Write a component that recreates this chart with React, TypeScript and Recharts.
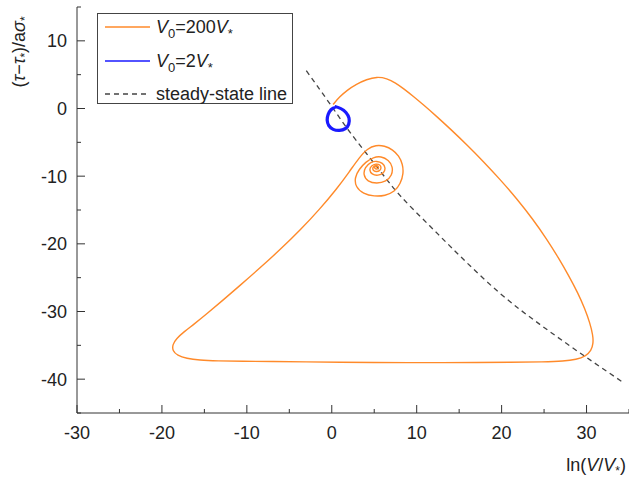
import React from "react";
import { LineChart, Line, XAxis, YAxis, Legend, Label } from "recharts";

// trajectory for V0 = 200 V*  (ln(V/V*), (tau - tau*)/a sigma*)
const fastLnV = [
  0.16, 0.9, 1.8, 2.9, 4.1, 5.3, 6.5, 7.5, 8.5, 9.6, 10.8, 12.3, 14.0, 15.9, 17.9, 19.8,
  21.8, 23.7, 25.3, 26.7, 27.9, 29.0, 29.8, 30.4, 30.75, 30.8, 30.55, 29.9, 28.8, 27.3,
  25, 21, 17, 13, 9, 5, 1, -3, -7, -10.5, -13.5, -15.6, -17.1, -18.2, -18.75, -18.75,
  -18.3, -17.4, -16.2, -14.7, -12.9, -10.8, -8.5, -6.1, -3.7, -1.4, 0.6, 2.1, 3.2, 4.2,
  5.2, 6.2, 7.2, 7.9, 8.35, 8.45, 8.1, 7.4, 6.3, 5.0, 3.7, 2.8, 2.7, 3.2, 4.0, 4.9,
  5.8, 6.7, 7.2, 7.1, 6.4, 5.3, 4.2, 3.7, 3.9, 4.6,
  5.3, 6.0, 6.35, 6.15, 5.45, 4.7, 4.4, 4.65,
  5.2, 5.7, 5.85, 5.65, 5.2, 4.85, 4.8, 5.05,
  5.35, 5.55, 5.45, 5.15, 5.0, 5.15, 5.3, 5.26,
];
const fastTau = [
  0.6, 1.7, 2.7, 3.6, 4.3, 4.7, 4.45, 3.8, 2.9, 1.8, 0.54, -1.11, -3.07, -5.35, -7.89, -10.45,
  -13.35, -16.39, -19.27, -22.07, -24.7, -27.3, -29.6, -31.7, -33.5, -34.7, -35.8, -36.6, -37.1, -37.35,
  -37.45, -37.5, -37.55, -37.55, -37.55, -37.55, -37.5, -37.45, -37.4, -37.35, -37.3, -37.2, -36.95, -36.5, -35.8, -34.9,
  -34.0, -33.0, -31.86, -30.33, -28.42, -26.15, -23.62, -20.88, -17.95, -14.85, -11.85, -9.3, -7.3, -5.9,
  -5.4, -5.5, -6.1, -7.0, -8.2, -9.6, -11.1, -12.3, -12.9, -13.0, -12.6, -11.6, -10.2, -9.0, -7.9, -7.2,
  -7.05, -7.6, -8.6, -9.9, -10.8, -11.1, -10.8, -9.8, -8.7, -7.9,
  -7.75, -8.05, -8.75, -9.55, -9.95, -9.75, -9.05, -8.45,
  -8.15, -8.3, -8.8, -9.25, -9.35, -9.15, -8.75, -8.45,
  -8.4, -8.65, -8.95, -8.95, -8.7, -8.5, -8.6, -8.63,
];

// trajectory for V0 = 2 V* (small limit cycle, two passes)
const slowLnV = [
  0.35, 1.1, 1.75, 2.15, 2.1, 1.7, 0.9, 0.1, -0.45, -0.65, -0.5, -0.15, 0.35,
  1.1, 1.7, 2.05, 2.0, 1.6, 0.9, 0.15, -0.35, -0.55, -0.4, -0.05, 0.4,
];
const slowTau = [
  0.34, 0.1, -0.5, -1.4, -2.4, -3.1, -3.38, -3.2, -2.6, -1.7, -0.8, -0.05, 0.34,
  -0.05, -0.6, -1.45, -2.35, -3.0, -3.25, -3.1, -2.55, -1.7, -0.85, -0.15, 0.15,
];

// steady-state line
const ssLnV = [-3, 0, 2.2, 5.3, 8, 11.5, 15.1, 19.8, 24.5, 29.2, 34.1];
const ssTau = [5.6, 0.3, -3.6, -8.6, -12.8, -17.3, -21.8, -27.3, -31.9, -36.1, -40.3];

const xTicks = [-30, -25, -20, -15, -10, -5, 0, 5, 10, 15, 20, 25, 30, 35];
const yTicks = [-45, -40, -35, -30, -25, -20, -15, -10, -5, 0, 5, 10, 15];

const toPoints = (xs: number[], ys: number[]) => xs.map((x, i) => ({ x, y: ys[i] }));

const fastData = toPoints(fastLnV, fastTau);
const slowData = toPoints(slowLnV, slowTau);
const ssData = toPoints(ssLnV, ssTau);

const ORANGE = "#ff8a2a";
const BLUE = "#1a1aff";
const DASH = "#444";
const FONT = "'Liberation Sans', Arial, sans-serif";

const XTick = (props: any) => {
  const { x, y, payload } = props;
  const v = payload.value;
  const major = v % 10 === 0;
  return (
    <g>
      <line x1={x} x2={x} y1={y} y2={y - (major ? 8 : 4)} stroke="#333" />
      {major && (
        <text x={x} y={y + 26} textAnchor="middle" fontSize={18} fill="#222" fontFamily={FONT}>
          {v}
        </text>
      )}
    </g>
  );
};

const YTick = (props: any) => {
  const { x, y, payload } = props;
  const v = payload.value;
  const major = v % 10 === 0 && v > -45;
  return (
    <g>
      <line x1={x} x2={x + (major ? 8 : 4)} y1={y} y2={y} stroke="#333" />
      {major && (
        <text x={x - 10} y={y + 6.5} textAnchor="end" fontSize={18} fill="#222" fontFamily={FONT}>
          {v}
        </text>
      )}
    </g>
  );
};

const YTitle = () => (
  <text
    transform="translate(25,52) rotate(-90)"
    textAnchor="middle"
    fontSize={18}
    fill="#222"
    fontFamily={FONT}
  >
    <tspan>(</tspan>
    <tspan fontStyle="italic">τ</tspan>
    <tspan>−</tspan>
    <tspan fontStyle="italic">τ</tspan>
    <tspan fontSize={12} dy={4}>*</tspan>
    <tspan dy={-4}>)/a</tspan>
    <tspan fontStyle="italic">σ</tspan>
    <tspan fontSize={12} dy={4}>*</tspan>
  </text>
);

const XTitle = () => (
  <text x={626} y={471} textAnchor="end" fontSize={18} fill="#222" fontFamily={FONT}>
    <tspan>ln(</tspan>
    <tspan fontStyle="italic">V</tspan>
    <tspan>/</tspan>
    <tspan fontStyle="italic">V</tspan>
    <tspan fontSize={12} dy={4}>*</tspan>
    <tspan dy={-4}>)</tspan>
  </text>
);

const legendRows = [
  { key: "fast", color: ORANGE, dash: undefined, width: 1.5 },
  { key: "slow", color: BLUE, dash: undefined, width: 1.5 },
  { key: "ss", color: DASH, dash: "5 4", width: 1.3 },
];

const LegendLabel = ({ id }: { id: string }) => {
  const sub = { fontSize: 13, verticalAlign: "-5px", lineHeight: 0 } as React.CSSProperties;
  if (id === "fast")
    return (
      <span>
        <i>V</i>
        <span style={sub}>0</span>=200<i>V</i>
        <span style={sub}>*</span>
      </span>
    );
  if (id === "slow")
    return (
      <span>
        <i>V</i>
        <span style={sub}>0</span>=2<i>V</i>
        <span style={sub}>*</span>
      </span>
    );
  return <span>steady-state line</span>;
};

const renderLegend = () => (
  <div
    style={{
      position: "relative",
      width: 196,
      height: 91,
      boxSizing: "border-box",
      border: "1px solid #444",
      background: "#fff",
      fontFamily: FONT,
      fontSize: 18,
      color: "#222",
    }}
  >
    {legendRows.map((r, i) => (
      <div
        key={r.key}
        style={{
          position: "absolute",
          left: 7,
          top: 13 + i * 33.5 - 12,
          height: 24,
          display: "flex",
          alignItems: "center",
          whiteSpace: "nowrap",
        }}
      >
        <svg width={46} height={24} style={{ display: "block" }}>
          <line
            x1={0}
            x2={45}
            y1={12}
            y2={12}
            stroke={r.color}
            strokeWidth={r.width}
            strokeDasharray={r.dash}
          />
        </svg>
        <span style={{ marginLeft: 5, lineHeight: "24px" }}>
          <LegendLabel id={r.key} />
        </span>
      </div>
    ))}
  </div>
);

export default function App() {
  return (
    <div style={{ position: "absolute", left: 0, top: 0, width: 629, height: 479, background: "#fff" }}>
      <LineChart width={629} height={479} margin={{ top: 7, right: 0, bottom: 0, left: 0 }}>
        <XAxis
          dataKey="x"
          type="number"
          domain={[-30, 35]}
          ticks={xTicks}
          interval={0}
          allowDataOverflow
          height={66}
          tickSize={0}
          tickMargin={0}
          tickLine={false}
          axisLine={{ stroke: "#333" }}
          tick={<XTick />}
        >
          <Label content={<XTitle />} />
        </XAxis>
        <YAxis
          dataKey="y"
          type="number"
          domain={[-45, 15]}
          ticks={yTicks}
          interval={0}
          allowDataOverflow
          width={77}
          tickSize={0}
          tickMargin={0}
          tickLine={false}
          axisLine={{ stroke: "#333" }}
          tick={<YTick />}
        >
          <Label content={<YTitle />} />
        </YAxis>
        <Legend
          layout="vertical"
          align="center"
          verticalAlign="middle"
          content={renderLegend}
          wrapperStyle={{ left: 97, top: 13, width: 196, height: 91 }}
        />
        <Line
          data={ssData}
          dataKey="y"
          type="natural"
          stroke={DASH}
          strokeWidth={1.3}
          strokeDasharray="5 4"
          dot={false}
          activeDot={false}
          isAnimationActive={false}
        />
        <Line
          data={fastData}
          dataKey="y"
          type="basis"
          stroke={ORANGE}
          strokeWidth={1.4}
          dot={false}
          activeDot={false}
          isAnimationActive={false}
        />
        <Line
          data={slowData}
          dataKey="y"
          type="basis"
          stroke={BLUE}
          strokeWidth={2.4}
          dot={false}
          activeDot={false}
          isAnimationActive={false}
        />
      </LineChart>
    </div>
  );
}
